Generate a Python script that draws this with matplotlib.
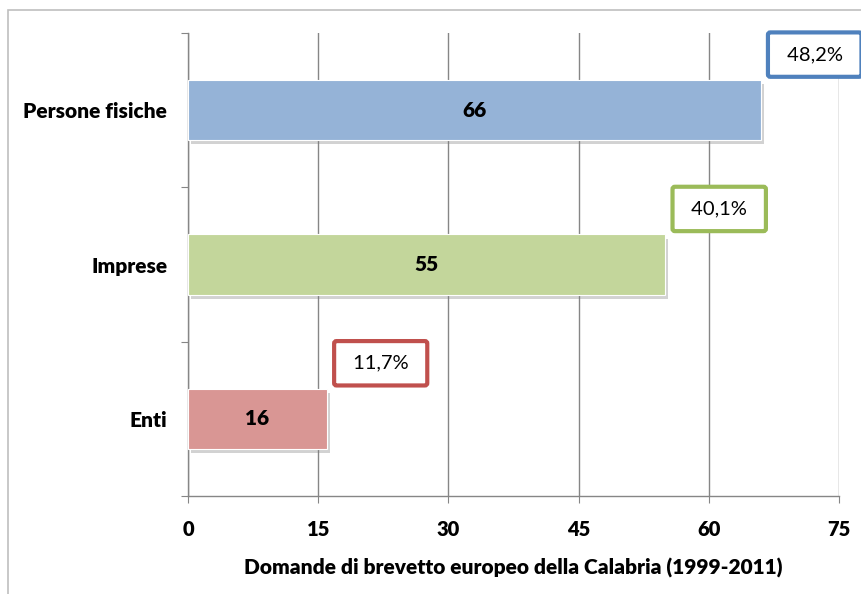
import matplotlib.pyplot as plt
import matplotlib.patheffects as pe
from matplotlib.patches import Rectangle

plt.rcParams['font.family'] = ['Lato', 'DejaVu Sans']

categories = ['Enti', 'Imprese', 'Persone fisiche']
values = [16, 55, 66]
shares = ['11,7%', '40,1%', '48,2%']
bar_colors = ['#D99694', '#C3D69B', '#95B3D7']
box_colors = ['#C0504D', '#9BBB59', '#4F81BD']
xticks = [0, 15, 30, 45, 60, 75]

fig = plt.figure(figsize=(8.61, 5.94), dpi=100)
ax = fig.add_axes([188/861, 1 - 496/594, (839 - 188)/861, (496 - 33)/594])

# outer chart frame (partially cropped in the reference)
fig.patches.append(Rectangle((8/861, -0.1), 1.2, 1.1 - 10/594, transform=fig.transFigure,
                             fill=False, edgecolor='#BFBFBF', linewidth=1.2))

ypos = [0.5, 1.5, 2.5]
bars = ax.barh(ypos, values, height=0.39, color=bar_colors, zorder=3,
               edgecolor='white', linewidth=0.8)
for b in bars:
    b.set_path_effects([pe.SimplePatchShadow(offset=(2, -3), alpha=0.35, shadow_rgbFace='#808080'),
                        pe.Normal()])

for y, v in zip(ypos, values):
    ax.text(v / 2, y, str(v), ha='center', va='center', fontsize=15,
            fontweight='heavy', color='black', zorder=4)

for y, v, s, c in zip(ypos, values, shares, box_colors):
    ax.text(v + 6.2, y + 0.36, ' ' + s + ' ', ha='center', va='center', fontsize=14.5, zorder=5,
            bbox=dict(boxstyle='round,pad=0.68,rounding_size=0.12', facecolor='white',
                      edgecolor=c, linewidth=3))

ax.set_xlim(0, 75)
ax.set_ylim(0, 3)
ax.set_xticks(xticks)
ax.set_xticklabels([str(t) for t in xticks], fontsize=14.5, fontweight='heavy')
ax.set_yticks([0, 1, 2, 3])
ax.set_yticklabels([])
ax.set_yticks(ypos, minor=True)
ax.set_yticklabels(categories, minor=True, fontsize=15, fontweight='heavy')
ax.tick_params(axis='y', which='minor', length=0, pad=15)
ax.tick_params(axis='y', which='major', length=5, color='#868686')
ax.tick_params(axis='x', length=5, color='#868686', pad=12)

ax.grid(axis='x', color='#868686', linewidth=1, zorder=0)
for side in ['top', 'right']:
    ax.spines[side].set_visible(False)
for side in ['left', 'bottom']:
    ax.spines[side].set_color('#868686')
    ax.spines[side].set_linewidth(1)

ax.set_xlabel('Domande di brevetto europeo della Calabria (1999-2011)', fontsize=15,
              fontweight='heavy', labelpad=14)

fig.savefig('out.png', dpi=100)
